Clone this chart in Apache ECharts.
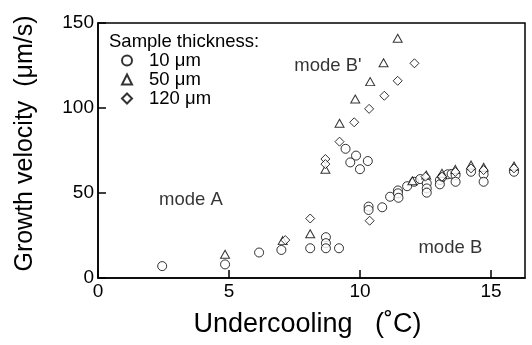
<!DOCTYPE html>
<html>
<head>
<meta charset="utf-8">
<script src="https://cdn.jsdelivr.net/npm/echarts@6/dist/echarts.min.js"></script>
<style>html,body{margin:0;padding:0;background:#fff;}#c{width:532px;height:345px;}</style>
</head>
<body>
<div id="c"></div>
<script>
// Data
var thin10 = [[2.45,7],[4.85,8],[6.15,15],[7.0,16.5],[8.1,17.5],[8.7,24],[8.7,20.5],[8.7,17.5],[9.2,17.5],
  [9.45,76],[9.85,72],[9.63,68],[10.0,64],[10.3,68.8],
  [10.33,42],[10.33,40],[10.85,41.6],[11.15,47.8],[11.45,51.5],[11.45,49.8],[11.47,47.2],[11.8,54],[12.07,56.6],[12.3,58.2],
  [12.55,55.7],[12.55,52.7],[12.55,50.2],[13.05,57.6],[13.05,55.1],[13.15,59.6],[13.35,61],[13.5,61.2],[13.65,60.6],[13.65,56.6],
  [14.24,62.5],[14.72,61],[14.72,56.6],[15.88,62.5]];
var thick50 = [[4.85,14],[7.05,22],[8.1,26],[8.68,64],[9.22,91],[9.82,105.3],[10.39,115.5],[10.9,126.6],[11.44,141],
  [12.0,57.2],[12.53,60.6],[13.13,61.6],[13.64,63.9],[14.24,66.5],[14.72,65.1],[15.88,65.9]];
var thick120 = [[7.15,22.3],[8.1,35],[8.68,70],[8.68,67],[9.22,80.2],[9.78,91.6],[10.35,99.5],[10.93,107.2],[11.44,116],[12.08,126.3],
  [10.37,33.7],[12.5,59.6],[13.13,59.6],[13.64,62.4],[14.24,64.5],[14.72,63.5],[15.88,64.5]];
var seriesNames = ['10 μm','50 μm','120 μm'];
var modeLabels = [{name:'mode A', value:[3.55,46]},{name:"mode B'", value:[8.78,125]},{name:'mode B', value:[13.45,17.6]}];
var xTicks = {min:0, max:16.3, interval:5};
var yTicks = {min:0, max:150, interval:50};

var font = 'Liberation Sans, Arial, Helvetica, sans-serif';
var chart = echarts.init(document.getElementById('c'));
function sty(){ return {color:'#fff', borderColor:'#000', borderWidth:1}; }
chart.setOption({
  animation:false,
  backgroundColor:'#fff',
  title:{text:'Sample thickness:', left:109, top:32, padding:0, textStyle:{fontFamily:font, fontSize:18.5, fontWeight:'normal', color:'#000'}},
  legend:{orient:'vertical', left:121, top:51, padding:0, itemGap:0, itemWidth:10, itemHeight:10,
    data:seriesNames, textStyle:{fontFamily:font, fontSize:18.5, lineHeight:18, color:'#000', padding:[0,0,0,12]}},
  grid:{left:98, right:7, top:23, bottom:67, show:true, borderColor:'#000', borderWidth:1.5},
  xAxis:{type:'value', min:xTicks.min, max:xTicks.max, interval:xTicks.interval,
    name:'Undercooling   (˚C)', nameLocation:'middle', nameGap:33,
    nameTextStyle:{fontFamily:font, fontSize:27, color:'#000', padding:[0,8,0,0]},
    axisLine:{lineStyle:{color:'#000', width:1.5}},
    axisTick:{inside:true, length:8, lineStyle:{color:'#000', width:1.5}},
    axisLabel:{fontFamily:font, fontSize:19, color:'#000', margin:4, showMaxLabel:false},
    splitLine:{show:false}},
  yAxis:{type:'value', min:yTicks.min, max:yTicks.max, interval:yTicks.interval,
    name:'Growth velocity  (μm/s)', nameLocation:'middle', nameGap:60,
    nameTextStyle:{fontFamily:font, fontSize:25, color:'#000', padding:[0,0,0,14]},
    axisLine:{lineStyle:{color:'#000', width:1.5}},
    axisTick:{inside:true, length:8, lineStyle:{color:'#000', width:1.5}},
    axisLabel:{fontFamily:font, fontSize:19, color:'#000', margin:4},
    splitLine:{show:false}},
  series:[
    {name:seriesNames[0], type:'scatter', symbol:'circle', symbolSize:9, data:thin10, itemStyle:sty()},
    {name:seriesNames[1], type:'scatter', symbol:'triangle', symbolSize:[9,8], data:thick50, itemStyle:sty()},
    {name:seriesNames[2], type:'scatter', symbol:'diamond', symbolSize:9, data:thick120, itemStyle:sty()},
    {type:'scatter', symbolSize:0, data:modeLabels, silent:true,
      label:{show:true, position:'inside', formatter:'{b}', fontFamily:font, fontSize:18.5, color:'#000'}}
  ]
});
</script>
</body>
</html>
